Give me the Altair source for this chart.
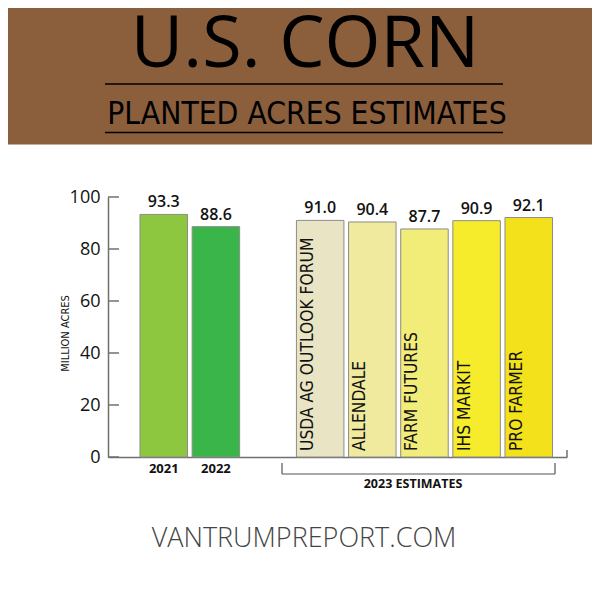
import altair as alt
import pandas as pd

# ---------------- data ----------------
slot_order = ["2021", "2022", "gap", "USDA AG OUTLOOK FORUM", "ALLENDALE",
              "FARM FUTURES", "IHS MARKIT", "PRO FARMER"]
categories = ["2021", "2022", "USDA AG OUTLOOK FORUM", "ALLENDALE",
              "FARM FUTURES", "IHS MARKIT", "PRO FARMER"]
values = [93.3, 88.6, 91.0, 90.4, 87.7, 90.9, 92.1]
groups = ["past", "past", "2023", "2023", "2023", "2023", "2023"]
bar_colors = ["#8DC63F", "#3AB54A", "#E9E5C4", "#EFEA9E", "#F2EC79",
              "#F6EC2B", "#F3E11B"]
y_ticks = [0, 20, 40, 60, 80, 100]

df = pd.DataFrame({
    "cat": categories,
    "value": values,
    "group": groups,
    "label": [f"{v:.1f}" for v in values],
})
ticks_df = pd.DataFrame({"tick": y_ticks})
one = pd.DataFrame({"k": [0]})

NARROW = "DejaVu Sans Condensed, Liberation Sans Narrow, sans-serif"
SANS = "Open Sans, Noto Sans, sans-serif"

# ---------------- scales / axes ----------------
xscale = alt.Scale(domain=slot_order, paddingInner=0.089, paddingOuter=0.446,
                   align=0.688)
yscale = alt.Scale(domain=[0, 100], nice=False)

xaxis = alt.Axis(
    title=None, ticks=False, labelAngle=0,
    labelExpr="(datum.value == '2021' || datum.value == '2022') ? datum.value : ''",
    labelFont=SANS, labelFontWeight="bold", labelFontSize=13,
    labelColor="#111111", labelPadding=5,
    domainColor="#707070", domainWidth=1.5,
)
yaxis = alt.Axis(
    values=y_ticks, ticks=False, grid=False,
    labelFont=SANS, labelFontSize=18, labelColor="#111111", labelPadding=8,
    domainColor="#707070", domainWidth=1.5,
    title="MILLION ACRES", titleFont=NARROW, titleFontSize=11,
    titleFontWeight="normal", titleColor="#111111",
    titleX=-43, titleY=136, titleAngle=270, titleAlign="center",
    titleBaseline="middle",
)

X = alt.X("cat:N", scale=xscale, axis=xaxis)

# ---------------- decorations ----------------
banner = alt.Chart(one).mark_rect(color="#8B5E3C").encode(
    x=alt.value(-108), x2=alt.value(484), y=alt.value(-197), y2=alt.value(-52.5))
line1 = alt.Chart(one).mark_rule(color="#000000", strokeWidth=1.5).encode(
    x=alt.value(-3), x2=alt.value(395), y=alt.value(-113))
line2 = alt.Chart(one).mark_rule(color="#000000", strokeWidth=1.5).encode(
    x=alt.value(-3), x2=alt.value(395), y=alt.value(-64.5))
title = alt.Chart(one).mark_text(
    text="U.S. CORN", font=SANS, fontSize=72,
    align="center", baseline="alphabetic", color="#000000").encode(
    x=alt.value(197), y=alt.value(-130))
subtitle = alt.Chart(one).mark_text(
    text="PLANTED ACRES ESTIMATES", font=NARROW, fontSize=31.5,
    align="center", baseline="alphabetic", color="#000000").encode(
    x=alt.value(199), y=alt.value(-73))

# ---------------- chart marks ----------------
bars = alt.Chart(df).mark_bar(stroke="#8c8c8c", strokeWidth=1).encode(
    x=X,
    y=alt.Y("value:Q", scale=yscale, axis=yaxis),
    color=alt.Color("cat:N", scale=alt.Scale(domain=categories, range=bar_colors),
                    legend=None),
)
ticks = alt.Chart(ticks_df).mark_rule(color="#707070", strokeWidth=1.5).encode(
    y=alt.Y("tick:Q", scale=yscale, axis=yaxis),
    x=alt.value(0), x2=alt.value(11),
)
value_labels = alt.Chart(df).mark_text(
    font=SANS, fontSize=16, fontWeight=600, baseline="bottom", dy=-4,
    color="#111111").encode(
    x=X, y=alt.Y("value:Q", scale=yscale, axis=yaxis), text="label:N")
bar_names = alt.Chart(df).transform_filter("datum.group == '2023'").mark_text(
    angle=270, align="left", baseline="middle", dx=6, dy=-12,
    font=NARROW, fontSize=17.3, color="#111111").encode(
    x=X, y=alt.datum(0), text="cat:N")

end_tick = alt.Chart(one).mark_rule(color="#707070", strokeWidth=1.5).encode(
    x=alt.value(459), y=alt.value(253), y2=alt.value(260))
br_left = alt.Chart(one).mark_rule(color="#555555", strokeWidth=1.2).encode(
    x=alt.value(174), y=alt.value(266), y2=alt.value(277))
br_right = alt.Chart(one).mark_rule(color="#555555", strokeWidth=1.2).encode(
    x=alt.value(447), y=alt.value(266), y2=alt.value(277))
br_bottom = alt.Chart(one).mark_rule(color="#555555", strokeWidth=1.2).encode(
    x=alt.value(174), x2=alt.value(447), y=alt.value(277))
est_text = alt.Chart(one).mark_text(
    text="2023 ESTIMATES", font=SANS, fontSize=12.5, fontWeight="bold",
    align="center", baseline="alphabetic", color="#111111").encode(
    x=alt.value(305), y=alt.value(291))
footer = alt.Chart(one).mark_text(
    text="VANTRUMPREPORT.COM", font=SANS, fontSize=27, fontWeight=300,
    align="center", baseline="alphabetic",
    color="#444444").encode(
    x=alt.value(196), y=alt.value(350))

chart = alt.layer(
    banner, line1, line2, title, subtitle,
    bars, ticks, value_labels, bar_names,
    end_tick, br_left, br_right, br_bottom, est_text, footer,
).properties(
    width=459, height=260,
    autosize=alt.AutoSizeParams(type="none"),
    padding={"left": 100, "top": 189, "right": 25, "bottom": 135},
    background="#ffffff",
).configure_view(stroke=None)

chart.save("out.html", embed_options={"renderer": "svg", "actions": False})
